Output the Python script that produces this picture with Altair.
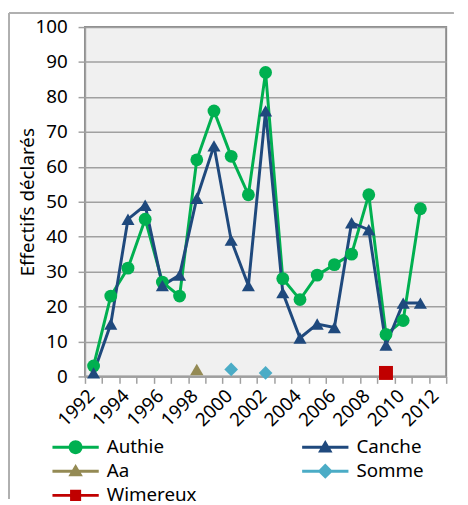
import altair as alt
import pandas as pd

years = list(range(1992, 2012))
authie = [3, 23, 31, 45, 27, 23, 62, 76, 63, 52, 87, 28, 22, 29, 32, 35, 52, 12, 16, 48]
canche = [1, 15, 45, 49, 26, 29, 51, 66, 39, 26, 76, 24, 11, 15, 14, 44, 42, 9, 21, 21]
aa = [None] * 6 + [2] + [None] * 13
somme = [None] * 8 + [2, None, 1] + [None] * 9
wimereux = [None] * 17 + [1, None, None]

series = ["Authie", "Canche", "Aa", "Somme", "Wimereux"]
colors = ["#00B050", "#1F497D", "#948A54", "#4BACC6", "#C00000"]
shapes = ["circle", "triangle-up", "triangle-up", "diamond", "square"]
marker_sizes = [169, 200, 200, 230, 130]
tick_years = list(range(1992, 2014))
y_ticks = list(range(0, 101, 10))

rows = []
for name, vals in zip(series, [authie, canche, aa, somme, wimereux]):
    for yr, v in zip(years, vals):
        rows.append({"year": yr, "series": name, "value": v})
df = pd.DataFrame(rows)

FONT = "Noto Sans"
GRAY = "#A0A0A0"

# legend symbols: line + marker (unit = 7 px)
line_path = "M-3.35,-0.21H3.35V0.21H-3.35Z"
marker_paths = {
    "Authie": "M-1,0A1,1 0 1,1 1,0A1,1 0 1,1 -1,0Z",
    "Canche": "M0,-1.05L1.05,0.75L-1.05,0.75Z",
    "Aa": "M0,-1.05L1.05,0.75L-1.05,0.75Z",
    "Somme": "M0,-1.1L1.1,0L0,1.1L-1.1,0Z",
    "Wimereux": "M-0.8,-0.8H0.8V0.8H-0.8Z",
}
# legend fills column by column: order so rows read Authie/Canche, Aa/Somme, Wimereux
legend_order = ["Authie", "Aa", "Wimereux", "Canche", "Somme"]
legend_colors = [colors[series.index(s)] for s in legend_order]
legend_paths = [line_path + " " + marker_paths[s] for s in legend_order]

x_enc = alt.X(
    "xpos:Q",
    scale=alt.Scale(domain=[1992, 2013], nice=False, zero=False),
    axis=alt.Axis(
        values=tick_years, format="d",
        labelExpr="datum.value % 2 == 0 ? datum.label : ''",
        labelAngle=-45, labelOverlap=False, grid=False, tickSize=7,
        labelPadding=3, title=None, domainColor=GRAY, domainWidth=1.5,
        tickColor=GRAY, tickWidth=1.5, labelFontSize=19, labelFont=FONT,
        labelColor="black",
    ),
)
y_enc = alt.Y(
    "value:Q",
    scale=alt.Scale(domain=[0, 100], nice=False),
    axis=alt.Axis(
        values=y_ticks, title="Effectifs déclarés", titleFontSize=19,
        titleFont=FONT, titleFontWeight="normal", titleColor="black",
        titlePadding=-2, grid=True, gridColor=GRAY, gridWidth=1.5,
        tickSize=7, tickColor=GRAY, tickWidth=1.5, domainColor=GRAY,
        domainWidth=1.5, labelPadding=11, labelFontSize=19, labelFont=FONT,
        labelColor="black",
    ),
)

color_nolegend = alt.Color("series:N", scale=alt.Scale(domain=series, range=colors), legend=None)

base = alt.Chart(df).transform_calculate(xpos="datum.year + 0.5")

lines = base.mark_line(strokeWidth=3).encode(x=x_enc, y=y_enc, color=color_nolegend)

points = base.transform_filter("isValid(datum.value)").mark_point(filled=True, opacity=1).encode(
    x=x_enc, y=y_enc, color=color_nolegend,
    shape=alt.Shape("series:N", scale=alt.Scale(domain=series, range=shapes), legend=None),
    size=alt.Size("series:N", scale=alt.Scale(domain=series, range=marker_sizes), legend=None),
)

legend_cfg = dict(title=None, orient="none", legendX=-19, legendY=416,
                  columns=2, columnPadding=106, rowPadding=4.5,
                  labelFontSize=19, labelFont=FONT, labelColor="black",
                  labelOffset=22, symbolSize=196, symbolStrokeWidth=0,
                  padding=0, symbolOpacity=1)

legend_layer = base.transform_filter("false").mark_point(filled=True, opacity=1, size=196).encode(
    x=x_enc, y=y_enc,
    color=alt.Color("series:N", scale=alt.Scale(domain=legend_order, range=legend_colors),
                    legend=alt.Legend(**legend_cfg)),
    shape=alt.Shape("series:N", scale=alt.Scale(domain=legend_order, range=legend_paths),
                    legend=alt.Legend(**legend_cfg)),
)

frame_left = alt.Chart(df).mark_rule(color="#B0B0B0", strokeWidth=1.5).encode(
    x=alt.value(-77), y=alt.value(-14), y2=alt.value(478))
frame_top = alt.Chart(df).mark_rule(color="#B0B0B0", strokeWidth=1.5).encode(
    x=alt.value(-77), x2=alt.value(373), y=alt.value(-14))

chart = alt.layer(frame_left, frame_top, lines, points, legend_layer).resolve_scale(
    color="independent", shape="independent", size="independent"
).properties(
    width=366, height=354,
    padding={"left": 0, "top": 1, "right": 0, "bottom": 0},
).configure_view(
    fill="#F0F0F0", stroke="#8C8C8C", strokeWidth=2
)

chart.save("out.html", embed_options={"renderer": "svg", "actions": False})
